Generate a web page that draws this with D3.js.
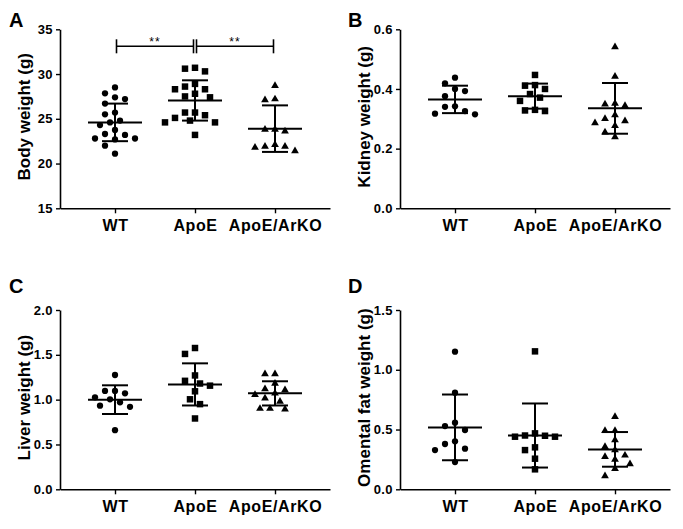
<!DOCTYPE html>
<html>
<head>
<meta charset="utf-8">
<script src="https://cdn.jsdelivr.net/npm/d3@7"></script>
<style>
  body { margin: 0; background: #fff; }
  svg { display: block; font-family: "Liberation Sans", Arial, sans-serif; font-weight: bold; }
</style>
</head>
<body>
<svg id="chart" width="683" height="529"></svg>
<script>
// Organ weights, WT vs ApoE vs ApoE/ArKO (scatter with mean ± SD)

const groups = ["WT", "ApoE", "ApoE/ArKO"];

// A: body weight (g)
const bodyWT = [28.5, 27.85, 27.4, 27.2, 26.7, 25.7, 25.5, 24.8, 24.3, 24.6, 23.75, 23.2, 22.8, 22.7, 22.8, 23.3, 22.0, 21.1];
const bodyApoE = [30.7, 30.3, 30.6, 28.9, 28.3, 27.8, 28.3, 28.6, 27.4, 27.5, 25.7, 25.1, 24.6, 24.6, 24.8, 25.4, 25.7, 23.2];
const bodyArKO = [28.7, 27.1, 27.2, 23.8, 23.6, 23.8, 22.1, 21.9, 21.4, 21.8, 21.9];
const bodyMean = [24.6, 27.05, 23.9];
const bodySD = [2.1, 2.25, 2.6];
const bodyTicks = [15, 20, 25, 30, 35];
const bodySig = [["WT", "ApoE", "**"], ["ApoE", "ApoE/ArKO", "**"]];
const bodySigLevel = 33.1;

// B: kidney weight (g)
const kidneyWT = [0.438, 0.419, 0.40, 0.393, 0.376, 0.342, 0.34, 0.326, 0.315, 0.317];
const kidneyApoE = [0.447, 0.413, 0.411, 0.40, 0.383, 0.371, 0.36, 0.33, 0.326, 0.328];
const kidneyArKO = [0.541, 0.442, 0.349, 0.344, 0.351, 0.313, 0.293, 0.286, 0.30, 0.277, 0.255, 0.239];
const kidneyMean = [0.365, 0.376, 0.335];
const kidneySD = [0.046, 0.042, 0.085];
const kidneyTicks = [0.0, 0.2, 0.4, 0.6];

// C: liver weight (g)
const liverWT = [1.275, 1.097, 1.07, 1.097, 1.004, 1.026, 0.97, 0.933, 0.92, 0.66];
const liverApoE = [1.576, 1.51, 1.27, 1.18, 1.21, 1.156, 1.093, 1.004, 0.95, 0.79];
const liverArKO = [1.286, 1.286, 1.18, 1.108, 1.12, 1.055, 1.07, 1.015, 0.98, 0.90, 0.893, 0.90];
const liverMean = [1.0, 1.17, 1.07];
const liverSD = [0.16, 0.235, 0.135];
const liverTicks = [0.0, 0.5, 1.0, 1.5, 2.0];

// D: omental fat weight (g)
const fatWT = [1.151, 0.808, 0.557, 0.529, 0.496, 0.401, 0.379, 0.34, 0.328, 0.228];
const fatApoE = [1.154, 0.468, 0.448, 0.44, 0.44, 0.45, 0.351, 0.328, 0.256, 0.167];
const fatArKO = [0.607, 0.49, 0.49, 0.412, 0.356, 0.328, 0.284, 0.25, 0.272, 0.211, 0.172, 0.111];
const fatMean = [0.518, 0.45, 0.334];
const fatSD = [0.275, 0.268, 0.145];
const fatTicks = [0.0, 0.5, 1.0, 1.5];

const panels = [
  { letter: "A", title: "Body weight (g)", values: [bodyWT, bodyApoE, bodyArKO], mean: bodyMean, sd: bodySD,
    ticks: bodyTicks, fmt: d3.format("d"), sig: bodySig, sigLevel: bodySigLevel,
    left: 60, right: 330, top: 29.3, bottom: 208.3, letterX: 9, letterY: 27 },
  { letter: "B", title: "Kidney weight (g)", values: [kidneyWT, kidneyApoE, kidneyArKO], mean: kidneyMean, sd: kidneySD,
    ticks: kidneyTicks, fmt: d3.format(".1f"),
    left: 400, right: 670, top: 29.3, bottom: 208.3, letterX: 348, letterY: 27 },
  { letter: "C", title: "Liver weight (g)", values: [liverWT, liverApoE, liverArKO], mean: liverMean, sd: liverSD,
    ticks: liverTicks, fmt: d3.format(".1f"),
    left: 60, right: 330, top: 310, bottom: 489.3, letterX: 9, letterY: 293 },
  { letter: "D", title: "Omental fat weight (g)", values: [fatWT, fatApoE, fatArKO], mean: fatMean, sd: fatSD,
    ticks: fatTicks, fmt: d3.format(".1f"),
    left: 400, right: 670, top: 310, bottom: 489.3, letterX: 348, letterY: 293 }
];

const shapes = [d3.symbolCircle, d3.symbolSquare, d3.symbolTriangle];
const shapeSize = [31, 42, 26];
const fontStack = '"Liberation Sans", Arial, sans-serif';

const svg = d3.select("#chart");

// Prism-like column scatter: lanes spaced by `step`, nearest free lane to the centre
function swarm(values, y, cx) {
  const step = 5, minD = 9;
  const placed = [];
  const pts = values.map((v) => ({ v, py: y(v) })).sort((a, b) => a.py - b.py);
  pts.forEach((p) => {
    for (let k = 0; k < 30; k++) {
      const lane = k === 0 ? 0 : (k % 2 ? -Math.ceil(k / 2) : Math.ceil(k / 2));
      const x = cx + lane * step;
      if (placed.every((q) => Math.hypot(q.px - x, q.py - p.py) >= minD)) {
        p.px = x;
        placed.push(p);
        break;
      }
    }
  });
  return placed;
}

panels.forEach((p) => {
  const g = svg.append("g");

  const x = d3.scalePoint().domain(groups).range([p.left, p.right]).padding(0.6875);
  const y = d3.scaleLinear().domain([p.ticks[0], p.ticks[p.ticks.length - 1]]).range([p.bottom, p.top]);

  // y axis
  const yAxis = g.append("g")
    .attr("transform", `translate(${p.left},0)`)
    .call(d3.axisLeft(y).tickValues(p.ticks).tickFormat(p.fmt).tickSize(4).tickSizeOuter(0).tickPadding(3));
  yAxis.attr("font-family", fontStack).attr("font-size", 13);
  yAxis.select(".domain").attr("stroke-width", 1.6);
  yAxis.selectAll(".tick line").attr("stroke-width", 1.4);
  yAxis.selectAll("text").attr("fill", "#000").style("letter-spacing", "0.4px");

  // x axis
  const xAxis = g.append("g")
    .attr("transform", `translate(0,${p.bottom})`)
    .call(d3.axisBottom(x).tickSize(5).tickSizeOuter(0).tickPadding(6));
  xAxis.attr("font-family", fontStack).attr("font-size", 16);
  xAxis.select(".domain").attr("stroke-width", 1.6);
  xAxis.selectAll(".tick line").attr("stroke-width", 1.4);
  xAxis.selectAll("text").attr("fill", "#000").style("letter-spacing", "0.6px");

  // axis title
  g.append("text")
    .attr("transform", `translate(${p.left - 30},${(p.top + p.bottom) / 2 - 2}) rotate(-90)`)
    .attr("text-anchor", "middle")
    .attr("font-size", 17)
    .text(p.title);

  // panel letter
  g.append("text")
    .attr("x", p.letterX)
    .attr("y", p.letterY)
    .attr("font-size", 20)
    .text(p.letter);

  // points
  groups.forEach((grp, i) => {
    const pts = swarm(p.values[i], y, x(grp));
    g.selectAll(null)
      .data(pts)
      .enter()
      .append("path")
      .attr("d", d3.symbol().type(shapes[i]).size(shapeSize[i]))
      .attr("transform", (d) => `translate(${d.px},${d.py})`)
      .attr("fill", "#000");
  });

  // mean ± SD
  groups.forEach((grp, i) => {
    const cx = x(grp);
    const m = p.mean[i], s = p.sd[i];
    const eb = g.append("g").attr("stroke", "#000").attr("stroke-width", 2).attr("fill", "none");
    eb.append("line").attr("x1", cx).attr("x2", cx).attr("y1", y(m + s)).attr("y2", y(m - s));
    eb.append("line").attr("x1", cx - 27).attr("x2", cx + 27).attr("y1", y(m)).attr("y2", y(m));
    [m + s, m - s].forEach((v) => {
      eb.append("line").attr("x1", cx - 13).attr("x2", cx + 13).attr("y1", y(v)).attr("y2", y(v));
    });
  });

  // significance brackets
  if (p.sig) {
    const yy = y(p.sigLevel);
    p.sig.forEach(([a, b, label]) => {
      const x1 = x(a) + 1.5, x2 = x(b) - 1.5;
      const br = g.append("g").attr("stroke", "#000").attr("stroke-width", 1.6);
      br.append("line").attr("x1", x1).attr("x2", x2).attr("y1", yy).attr("y2", yy);
      br.append("line").attr("x1", x1).attr("x2", x1).attr("y1", yy - 7).attr("y2", yy + 7);
      br.append("line").attr("x1", x2).attr("x2", x2).attr("y1", yy - 7).attr("y2", yy + 7);
      g.append("text")
        .attr("x", (x1 + x2) / 2)
        .attr("y", yy - 0.5)
        .attr("text-anchor", "middle")
        .attr("font-size", 12)
        .attr("font-weight", "normal")
        .attr("fill", "#000")
        .style("letter-spacing", "1px")
        .text(label);
    });
  }
});
</script>
</body>
</html>
